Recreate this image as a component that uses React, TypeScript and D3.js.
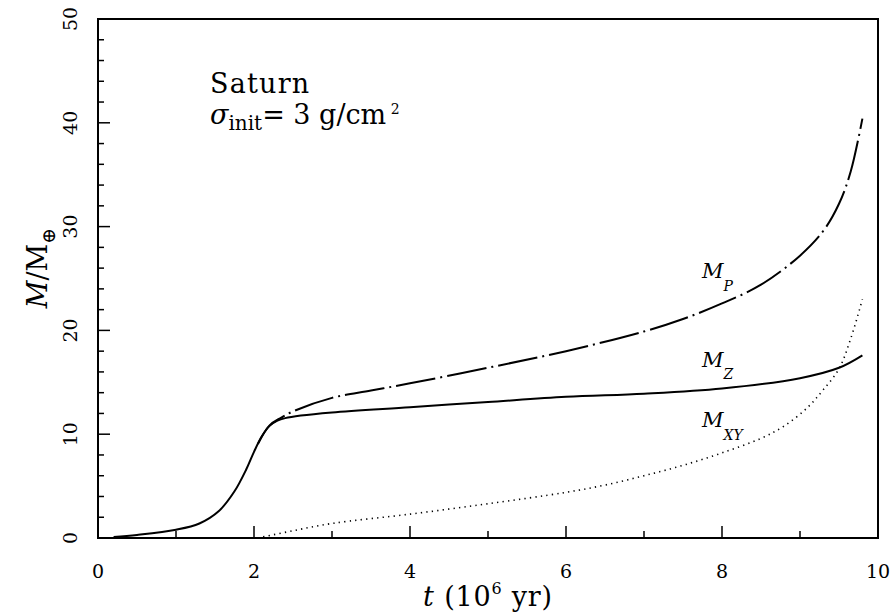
import {useEffect, useRef} from "react";
import * as d3 from 'd3'

// M_Z (solid)
const tZ = [0.2, 0.5, 1.0, 1.3, 1.55, 1.75, 1.9, 2.0, 2.1, 2.2, 2.3, 2.4, 2.6, 3.0, 4.0, 5.0, 6.0, 7.0, 8.0, 9.0, 9.5, 9.8]
const mZ = [0.1, 0.3, 0.8, 1.4, 2.6, 4.5, 6.6, 8.3, 9.8, 10.8, 11.3, 11.55, 11.8, 12.1, 12.6, 13.1, 13.6, 13.9, 14.4, 15.4, 16.4, 17.6]
// M_XY (dotted)
const tXY = [2.05, 2.5, 3.0, 4.0, 5.0, 6.0, 6.5, 7.0, 7.5, 8.0, 8.5, 8.8, 9.1, 9.3, 9.5, 9.65, 9.8]
const mXY = [0, 0.7, 1.4, 2.3, 3.3, 4.4, 5.1, 6.0, 7.0, 8.2, 9.6, 10.8, 12.6, 14.3, 16.3, 19.2, 23.0]
// M_P (dash-dot)
const tP = [2.05, 2.2, 2.35, 2.5, 3.0, 3.5, 4.0, 5.0, 6.0, 7.0, 7.5, 8.0, 8.5, 9.0, 9.3, 9.5, 9.65, 9.8]
const mP = [9.05, 10.85, 11.6, 12.2, 13.5, 14.2, 14.9, 16.4, 18.0, 19.9, 21.1, 22.6, 24.4, 27.2, 29.6, 32.2, 35.3, 40.4]

const xTicks = [0, 2, 4, 6, 8, 10]
const yTicks = [0, 10, 20, 30, 40, 50]

const left = 98, right = 878, top = 19, bottom = 538
const serif = "'DejaVu Serif', serif"

const App = () => {
    const svgRef = useRef<SVGSVGElement>(null)

    useEffect(() => {
        const svg = d3.select(svgRef.current)
        svg.selectAll("*").remove()

        const x = d3.scaleLinear().domain([0, 10]).range([left, right])
        const y = d3.scaleLinear().domain([0, 50]).range([bottom, top])

        // ticks, pointing inward
        const g = svg.append("g")
        const xMinor = d3.range(0, 11, 1)
        g.selectAll(".xt").data(xMinor).join("line")
            .attr("x1", d => x(d)).attr("x2", d => x(d))
            .attr("y1", bottom).attr("y2", d => bottom - (d % 2 === 0 ? 12 : 7))
            .attr("stroke", "#000").attr("stroke-width", 1.5)
        const yMinor = d3.range(0, 51, 2)
        g.selectAll(".yt").data(yMinor).join("line")
            .attr("y1", d => y(d)).attr("y2", d => y(d))
            .attr("x1", left).attr("x2", d => left + (d % 10 === 0 ? 12 : 6))
            .attr("stroke", "#000").attr("stroke-width", 1.5)

        // frame
        svg.append("rect")
            .attr("x", left).attr("y", top)
            .attr("width", right - left).attr("height", bottom - top)
            .attr("fill", "none").attr("stroke", "#000").attr("stroke-width", 2)

        // tick labels
        svg.selectAll(".xl").data(xTicks).join("text")
            .attr("x", d => x(d)).attr("y", 578)
            .attr("text-anchor", "middle")
            .attr("font-family", serif).attr("font-size", 19)
            .text(d => d)
        svg.selectAll(".yl").data(yTicks).join("text")
            .attr("transform", d => `translate(77,${y(d)}) rotate(-90)`)
            .attr("text-anchor", "middle")
            .attr("font-family", serif).attr("font-size", 19)
            .text(d => d)

        const line = d3.line<[number, number]>()
            .x(d => x(d[0])).y(d => y(d[1]))
            .curve(d3.curveCatmullRom.alpha(0.5))

        svg.append("path")
            .attr("d", line(tXY.map((t, i) => [t, mXY[i]] as [number, number])))
            .attr("fill", "none").attr("stroke", "#000").attr("stroke-width", 1.6)
            .attr("stroke-dasharray", "1.3,4.2")
        svg.append("path")
            .attr("d", line(tP.map((t, i) => [t, mP[i]] as [number, number])))
            .attr("fill", "none").attr("stroke", "#000").attr("stroke-width", 2)
            .attr("stroke-dasharray", "40,5,2,5")
        svg.append("path")
            .attr("d", line(tZ.map((t, i) => [t, mZ[i]] as [number, number])))
            .attr("fill", "none").attr("stroke", "#000").attr("stroke-width", 2)
    }, [])

    return (
        <div style={{position: "absolute", left: 0, top: 0}}>
            <svg ref={svgRef} width={891} height={616} style={{display: "block"}}></svg>
            <svg width={891} height={616} style={{position: "absolute", left: 0, top: 0}} fontFamily={serif}>
                <text x={210} y={93} fontSize={27} letterSpacing={1.2}>Saturn</text>
                <text x={210} y={124} fontSize={27}>
                    <tspan fontStyle="italic">σ</tspan>
                    <tspan fontSize={20} dy={6}>init</tspan>
                    <tspan dy={-6}>= 3 g/cm</tspan>
                    <tspan fontSize={14} dy={-10}> 2</tspan>
                </text>
                <text x={702} y={278} fontSize={21} fontStyle="italic">
                    M<tspan fontSize={14} dy={13}>P</tspan>
                </text>
                <text x={702} y={367} fontSize={21} fontStyle="italic">
                    M<tspan fontSize={14} dy={12}>Z</tspan>
                </text>
                <text x={702} y={427} fontSize={21} fontStyle="italic">
                    M<tspan fontSize={14} dy={13}>XY</tspan>
                </text>
                <text transform="translate(47,268) rotate(-90)" textAnchor="middle" fontSize={27}>
                    <tspan fontStyle="italic">M</tspan>/M<tspan fontSize={19} dy={8}>⊕</tspan>
                </text>
                <text x={488} y={606} textAnchor="middle" fontSize={27} letterSpacing={0.8}>
                    <tspan fontStyle="italic">t</tspan> (10<tspan fontSize={16} dy={-12}>6</tspan><tspan dy={12}> yr)</tspan>
                </text>
            </svg>
        </div>
    )
}

export default App
